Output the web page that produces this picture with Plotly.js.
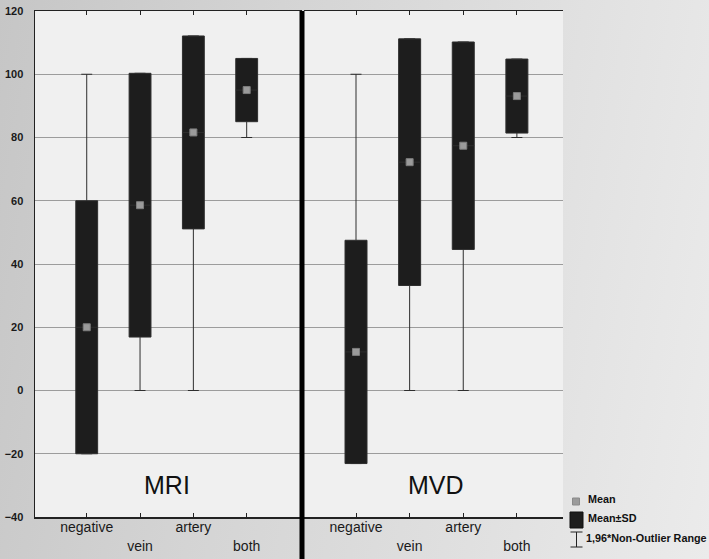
<!DOCTYPE html>
<html>
<head>
<meta charset="utf-8">
<script src="https://cdn.plot.ly/plotly-3.0.1.min.js"></script>
<style>
html,body{margin:0;padding:0;}
body{width:709px;height:559px;background:linear-gradient(100deg,#c6c6c6 0%,#d4d4d4 35%,#e0e0e0 70%,#ebebeb 100%);}
#chart{width:709px;height:559px;}
</style>
</head>
<body>
<div id="chart"></div>
<script>
// ---- data ----
const categories = ['negative', 'vein', 'artery', 'both'];
const tickLabels = ['negative', '<br>vein', 'artery', '<br>both'];

const mriMean = [20, 58.6, 81.6, 95];
const mriSD   = [40, 41.7, 30.5, 10];
const mriLow  = [0, 0, 0, 80];      // 1,96*Non-Outlier range, lower end
const mriHigh = [100, 100, 100, 100];

const mvdMean = [12.2, 72.2, 77.4, 93.1];
const mvdSD   = [35.3, 39, 32.8, 11.7];
const mvdLow  = [0, 0, 0, 80];
const mvdHigh = [100, 100, 100, 100];

const panelNames = ['MRI', 'MVD'];
const legendLabels = ['Mean', 'Mean±SD', '1,96*Non-Outlier Range'];

// ---- styling ----
const FONT = 'Liberation Sans, Arial, sans-serif';
const boxFill = '#1d1d1d';
const boxLine = '#2e2e2e';
const meanFill = '#9b9b9b';

function boxTrace(mean, sd, low, high, xa) {
  return {
    type: 'box', xaxis: xa, yaxis: 'y',
    x: categories,
    q1: mean.map((m, i) => m - sd[i]),
    q3: mean.map((m, i) => m + sd[i]),
    median: mean,
    lowerfence: low,
    upperfence: high,
    width: 0.41,
    whiskerwidth: 0.5,
    fillcolor: boxFill,
    line: {color: boxLine, width: 1},
    boxpoints: false,
    hoverinfo: 'skip',
    showlegend: false
  };
}
function meanTrace(mean, xa) {
  return {
    type: 'scatter', mode: 'markers', xaxis: xa, yaxis: 'y',
    x: categories, y: mean,
    marker: {symbol: 'square', size: 7, color: meanFill, line: {color: '#7d7d7d', width: 1}},
    hoverinfo: 'skip', showlegend: false
  };
}

const data = [
  boxTrace(mriMean, mriSD, mriLow, mriHigh, 'x'),
  boxTrace(mvdMean, mvdSD, mvdLow, mvdHigh, 'x2'),
  meanTrace(mriMean, 'x'),
  meanTrace(mvdMean, 'x2')
];

// plot-area geometry helpers (pixels -> paper) for the legend glyphs
const ML = 35, MT = 11, PW = 528, PH = 506;
const px = v => (v - ML) / PW;
const py = v => (MT + PH - v) / PH;

const xCommon = {
  type: 'category',
  categoryorder: 'array', categoryarray: categories,
  tickmode: 'array', tickvals: categories, ticktext: tickLabels,
  tickfont: {family: FONT, size: 14, color: '#1a1a1a'},
  ticks: 'inside', ticklen: 4, tickcolor: '#222',
  ticklabelstandoff: -3,
  showline: true, linecolor: '#222', linewidth: 1.5, mirror: 'allticks',
  showgrid: false, zeroline: false, fixedrange: true
};

const legFont = {family: FONT, size: 10.8, color: '#111', weight: 'bold'};

const layout = {
  width: 709, height: 559,
  margin: {l: ML, r: 709 - ML - PW, t: MT, b: 559 - MT - PH},
  paper_bgcolor: 'rgba(0,0,0,0)',
  plot_bgcolor: '#f0f0f0',
  boxmode: 'overlay',
  showlegend: false,
  xaxis: Object.assign({}, xCommon, {domain: [0, px(300)], range: [-0.97, 4.0], anchor: 'y'}),
  xaxis2: Object.assign({}, xCommon, {domain: [px(304), 1], range: [-0.97, 3.86], anchor: 'y'}),
  yaxis: {
    range: [-40, 120], tickmode: 'linear', tick0: -40, dtick: 20,
    tickfont: {family: FONT, size: 11, color: '#1a1a1a', weight: 'bold'},
    ticks: '', ticklabelstandoff: 8,
    showgrid: true, gridcolor: '#9c9c9c', gridwidth: 1,
    zeroline: false,
    showline: true, linecolor: '#222', linewidth: 1.5, mirror: true,
    fixedrange: true
  },
  annotations: [
    {text: panelNames[0], xref: 'x', yref: 'y', x: 1.5, y: -30, showarrow: false,
     font: {family: FONT, size: 25, color: '#111'}},
    {text: panelNames[1], xref: 'x2', yref: 'y', x: 1.5, y: -30, showarrow: false,
     font: {family: FONT, size: 25, color: '#111'}},
    {text: legendLabels[0], xref: 'paper', yref: 'paper', x: px(586), y: py(498.5),
     xanchor: 'left', yanchor: 'middle', showarrow: false, font: legFont},
    {text: legendLabels[1], xref: 'paper', yref: 'paper', x: px(586), y: py(517.5),
     xanchor: 'left', yanchor: 'middle', showarrow: false, font: legFont},
    {text: legendLabels[2], xref: 'paper', yref: 'paper', x: px(584), y: py(537.5),
     xanchor: 'left', yanchor: 'middle', showarrow: false, font: legFont}
  ],
  shapes: [
    // thick separator between the two panels
    {type: 'line', xref: 'paper', yref: 'paper', x0: px(302), x1: px(302), y0: 1, y1: py(559),
     line: {color: '#000', width: 5}},
    // legend glyphs
    {type: 'rect', xref: 'paper', yref: 'paper', x0: px(572.5), x1: px(579.5), y0: py(505), y1: py(498),
     fillcolor: meanFill, line: {color: '#8a8a8a', width: 1}},
    {type: 'rect', xref: 'paper', yref: 'paper', x0: px(570), x1: px(583), y0: py(528), y1: py(512),
     fillcolor: boxFill, line: {color: '#111', width: 1}},
    {type: 'line', xref: 'paper', yref: 'paper', x0: px(576.5), x1: px(576.5), y0: py(532), y1: py(547),
     line: {color: '#222', width: 1}},
    {type: 'line', xref: 'paper', yref: 'paper', x0: px(570.5), x1: px(582.5), y0: py(532), y1: py(532),
     line: {color: '#222', width: 1}},
    {type: 'line', xref: 'paper', yref: 'paper', x0: px(570.5), x1: px(582.5), y0: py(547), y1: py(547),
     line: {color: '#222', width: 1}}
  ]
};

Plotly.newPlot('chart', data, layout, {displayModeBar: false, staticPlot: true});
</script>
</body>
</html>
